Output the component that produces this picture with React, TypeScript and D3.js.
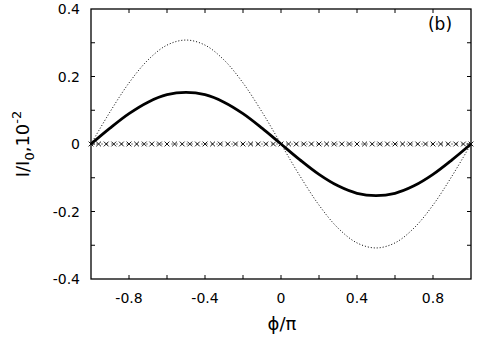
import React from "react";
import { scaleLinear, line, curveCatmullRom } from "d3";

// phase grid, phi/pi
const phase = [-1, -0.9, -0.8, -0.7, -0.6, -0.5, -0.4, -0.3, -0.2, -0.1, 0, 0.1, 0.2, 0.3, 0.4, 0.5, 0.6, 0.7, 0.8, 0.9, 1];
// thick solid curve
const solidValues = [0, 0.047, 0.09, 0.124, 0.146, 0.153, 0.146, 0.124, 0.09, 0.047, 0, -0.047, -0.09, -0.124, -0.146, -0.153, -0.146, -0.124, -0.09, -0.047, 0];
// thin dotted curve
const dottedValues = [0, 0.095, 0.181, 0.249, 0.293, 0.308, 0.293, 0.249, 0.181, 0.095, 0, -0.095, -0.181, -0.249, -0.293, -0.308, -0.293, -0.249, -0.181, -0.095, 0];
// cross markers
const crossPhase = [-1, -0.96, -0.92, -0.88, -0.84, -0.8, -0.76, -0.72, -0.68, -0.64, -0.6, -0.56, -0.52, -0.48, -0.44, -0.4, -0.36, -0.32, -0.28, -0.24, -0.2, -0.16, -0.12, -0.08, -0.04, 0, 0.04, 0.08, 0.12, 0.16, 0.2, 0.24, 0.28, 0.32, 0.36, 0.4, 0.44, 0.48, 0.52, 0.56, 0.6, 0.64, 0.68, 0.72, 0.76, 0.8, 0.84, 0.88, 0.92, 0.96, 1];
const crossValues = crossPhase.map(() => 0);

const xTickLabels = [-0.8, -0.4, 0, 0.4, 0.8];
const xTickMarks = [-0.8, -0.6, -0.4, -0.2, 0, 0.2, 0.4, 0.6, 0.8];
const yTickLabels = [-0.4, -0.2, 0, 0.2, 0.4];
const yTickMarks = [-0.3, -0.2, -0.1, 0, 0.1, 0.2, 0.3];

const W = 478;
const H = 337;
const margin = { top: 9, right: 7, bottom: 58, left: 91 };
const font = "'DejaVu Sans', sans-serif";

export default function App() {
  const x = scaleLinear().domain([-1, 1]).range([margin.left, W - margin.right]);
  const y = scaleLinear().domain([-0.4, 0.4]).range([H - margin.bottom, margin.top]);

  const lineGen = line<number>()
    .x((_, i) => x(phase[i]))
    .y((d) => y(d))
    .curve(curveCatmullRom);

  const fmt = (v: number) => (v === 0 ? "0" : String(v));
  const tl = 4;

  return (
    <svg
      width={W}
      height={H}
      style={{ position: "absolute", left: 0, top: 0, background: "#fff" }}
      fontFamily={font}
    >
      <path d={lineGen(dottedValues) || ""} fill="none" stroke="#000" strokeWidth={1} strokeDasharray="1,2" />
      <path d={lineGen(solidValues) || ""} fill="none" stroke="#000" strokeWidth={2.8} />

      {crossPhase.map((p, i) => {
        const cx = x(p);
        const cy = y(crossValues[i]);
        const s = 2.4;
        return (
          <path
            key={i}
            d={`M${cx - s},${cy - s}L${cx + s},${cy + s}M${cx - s},${cy + s}L${cx + s},${cy - s}`}
            stroke="#000"
            strokeWidth={0.9}
          />
        );
      })}
      <line x1={x(-1)} x2={x(1)} y1={y(0)} y2={y(0)} stroke="#000" strokeWidth={0.5} strokeDasharray="2,3" />

      {/* frame */}
      <rect
        x={x(-1)}
        y={y(0.4)}
        width={x(1) - x(-1)}
        height={y(-0.4) - y(0.4)}
        fill="none"
        stroke="#000"
        strokeWidth={1.3}
      />

      {xTickMarks.map((t) => (
        <g key={"xt" + t}>
          <line x1={x(t)} x2={x(t)} y1={y(-0.4)} y2={y(-0.4) - tl} stroke="#000" strokeWidth={1} />
          <line x1={x(t)} x2={x(t)} y1={y(0.4)} y2={y(0.4) + tl} stroke="#000" strokeWidth={1} />
        </g>
      ))}
      {yTickMarks.map((t) => (
        <g key={"yt" + t}>
          <line x1={x(-1)} x2={x(-1) + tl} y1={y(t)} y2={y(t)} stroke="#000" strokeWidth={1} />
          <line x1={x(1)} x2={x(1) - tl} y1={y(t)} y2={y(t)} stroke="#000" strokeWidth={1} />
        </g>
      ))}

      {xTickLabels.map((t) => (
        <text key={"xl" + t} x={x(t)} y={303} textAnchor="middle" fontSize={14} fill="#000">
          {fmt(t)}
        </text>
      ))}
      {yTickLabels.map((t) => (
        <text key={"yl" + t} x={80} y={y(t) + 5} textAnchor="end" fontSize={14} fill="#000">
          {fmt(t)}
        </text>
      ))}

      <text x={282} y={330} textAnchor="middle" fontSize={18} fill="#000">
        ϕ/π
      </text>

      <text transform={`translate(29, 144) rotate(-90)`} textAnchor="middle" fontSize={18} fill="#000">
        I/I<tspan fontSize={13} dy={5}>0</tspan>
        <tspan dy={-5}>,10</tspan>
        <tspan fontSize={13} dy={-8}>-2</tspan>
      </text>

      <text x={440} y={30} textAnchor="middle" fontSize={17} fill="#000">
        (b)
      </text>
    </svg>
  );
}
